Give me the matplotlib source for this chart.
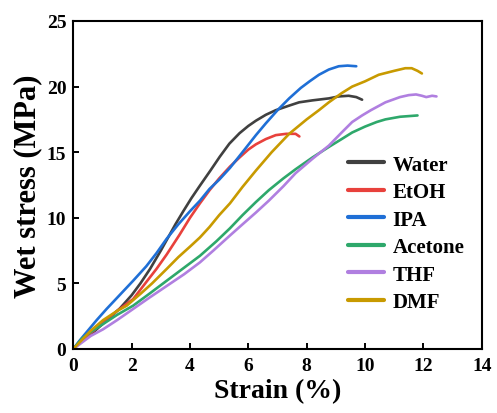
import matplotlib
matplotlib.use("Agg")
import matplotlib.pyplot as plt

plt.rcParams['font.family'] = ['Liberation Serif', 'DejaVu Serif']
plt.rcParams['font.weight'] = 'bold'

water_x = [0, 0.3, 0.7, 1.0, 1.3, 1.6, 2.0, 2.3, 2.63, 3.0, 3.2, 3.5, 3.77, 4.05, 4.34, 4.7, 5.02, 5.35, 5.7, 6.0, 6.26, 6.6, 6.94, 7.4, 7.74, 8.2, 8.76, 9.1, 9.44, 9.7, 9.9]
water_y = [0, 0.6, 1.3, 1.9, 2.5, 3.1, 4.1, 5.0, 6.1, 7.5, 8.3, 9.5, 10.5, 11.5, 12.45, 13.6, 14.65, 15.65, 16.45, 17.0, 17.4, 17.85, 18.2, 18.55, 18.8, 18.95, 19.1, 19.25, 19.3, 19.2, 19.0]

etoh_x = [0, 0.3, 0.7, 1.0, 1.5, 2.05, 2.5, 2.85, 3.2, 3.64, 4.0, 4.34, 4.67, 5.0, 5.37, 5.7, 6.0, 6.26, 6.6, 6.94, 7.3, 7.62, 7.75]
etoh_y = [0, 0.7, 1.4, 2.0, 2.9, 3.8, 5.1, 6.1, 7.2, 8.7, 10.0, 11.1, 12.1, 13.0, 13.9, 14.6, 15.2, 15.6, 16.0, 16.3, 16.4, 16.4, 16.2]

ipa_x = [0, 0.2, 0.5, 0.8, 1.14, 1.5, 2.05, 2.5, 2.85, 3.2, 3.6, 4.0, 4.34, 4.67, 5.0, 5.37, 5.8, 6.26, 6.6, 7.0, 7.4, 7.8, 8.1, 8.42, 8.76, 9.1, 9.4, 9.7]
ipa_y = [0, 0.6, 1.4, 2.2, 3.05, 3.9, 5.2, 6.3, 7.3, 8.4, 9.5, 10.5, 11.3, 12.2, 12.9, 13.8, 15.0, 16.3, 17.2, 18.2, 19.1, 19.9, 20.4, 20.9, 21.3, 21.55, 21.6, 21.55]

acetone_x = [0, 0.3, 0.6, 1.02, 1.5, 2.05, 2.6, 3.2, 3.8, 4.34, 4.9, 5.37, 5.8, 6.26, 6.7, 7.2, 7.62, 8.2, 8.76, 9.2, 9.56, 10.0, 10.4, 10.7, 11.2, 11.5, 11.8]
acetone_y = [0, 0.8, 1.3, 1.9, 2.6, 3.3, 4.2, 5.2, 6.2, 7.1, 8.2, 9.2, 10.2, 11.2, 12.1, 13.0, 13.7, 14.6, 15.4, 16.0, 16.5, 16.95, 17.3, 17.5, 17.7, 17.75, 17.8]

thf_x = [0, 0.3, 0.6, 1.02, 1.5, 2.05, 2.6, 3.2, 3.8, 4.34, 4.8, 5.37, 5.8, 6.26, 6.7, 7.2, 7.62, 8.2, 8.76, 9.2, 9.56, 9.9, 10.2, 10.7, 11.2, 11.5, 11.75, 11.95, 12.1, 12.3, 12.45]
thf_y = [0, 0.5, 1.0, 1.5, 2.2, 3.05, 3.9, 4.8, 5.7, 6.6, 7.5, 8.65, 9.5, 10.4, 11.3, 12.4, 13.4, 14.5, 15.5, 16.5, 17.3, 17.8, 18.2, 18.8, 19.2, 19.35, 19.4, 19.3, 19.2, 19.3, 19.25]

dmf_x = [0, 0.3, 0.6, 1.02, 1.5, 1.83, 2.3, 2.7, 3.2, 3.6, 4.0, 4.34, 4.67, 5.0, 5.37, 5.8, 6.26, 6.8, 7.4, 8.0, 8.42, 8.76, 9.2, 9.56, 10.0, 10.47, 11.0, 11.38, 11.6, 11.8, 11.95]
dmf_y = [0, 0.7, 1.4, 2.2, 2.9, 3.3, 4.2, 5.0, 6.1, 7.0, 7.8, 8.5, 9.3, 10.2, 11.1, 12.35, 13.6, 15.0, 16.4, 17.5, 18.2, 18.8, 19.5, 20.0, 20.4, 20.9, 21.2, 21.4, 21.4, 21.2, 21.0]

labels = ['Water', 'EtOH', 'IPA', 'Acetone', 'THF', 'DMF']
colors = ['#404040', '#e8413c', '#1f6fd6', '#2ea86b', '#b07fe0', '#c89a00']
xs = [water_x, etoh_x, ipa_x, acetone_x, thf_x, dmf_x]
ys = [water_y, etoh_y, ipa_y, acetone_y, thf_y, dmf_y]

x_ticks = [0, 2, 4, 6, 8, 10, 12, 14]
y_ticks = [0, 5, 10, 15, 20, 25]

fig = plt.figure(figsize=(4.97, 4.14), dpi=100)
ax = fig.add_axes([0.1475, 0.1546, 0.8217, 0.7923])

for x, y, c, l in zip(xs, ys, colors, labels):
    ax.plot(x, y, color=c, lw=1.9, label=l, solid_capstyle='round', solid_joinstyle='round')

ax.set_xlim(0, 14)
ax.set_ylim(0, 25)
ax.set_xticks(x_ticks)
ax.set_yticks(y_ticks)
ax.tick_params(direction='in', length=4, width=1.4, labelsize=14)
ax.tick_params(axis='x', pad=6)
ax.tick_params(axis='y', pad=5)
for s in ax.spines.values():
    s.set_linewidth(1.5)

ax.set_xlabel('Strain (%)', fontsize=20, fontweight='bold', labelpad=3)
ax.set_ylabel('Wet stress (MPa)', fontsize=22, fontweight='bold', labelpad=3)

leg = ax.legend(loc='center left', bbox_to_anchor=(0.672, 0.352), frameon=False,
                fontsize=15, handlelength=1.75, handletextpad=0.4, labelspacing=0.36,
                borderaxespad=0, borderpad=0)
for h in leg.get_lines():
    h.set_linewidth(3)

fig.savefig('out.png', dpi=100)
